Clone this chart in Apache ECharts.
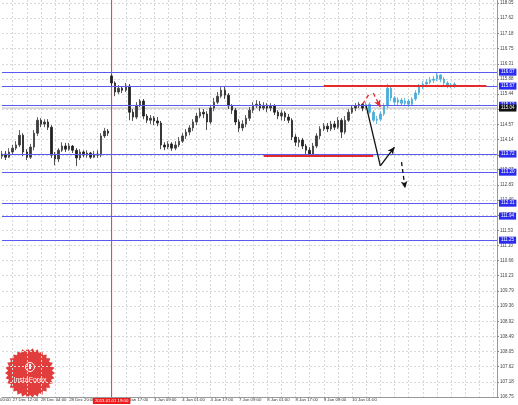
<!DOCTYPE html>
<html><head><meta charset="utf-8">
<script src="https://cdn.jsdelivr.net/npm/echarts@6/dist/echarts.min.js"></script>
<style>html,body{margin:0;padding:0;background:#fff}#c{width:518px;height:405px}</style>
</head><body><div id="c"></div>
<script>
// ---- data ----
const barCount = 141;
const firstLabelIndex = 3, labelStep = 8;
const timeLabels = ['27 Dec 12:00','28 Dec 04:00','28 Dec 20:00','1 Jan 09:00','2 Jan 17:00','3 Jan 09:00','4 Jan 01:00','4 Jan 17:00','7 Jan 09:00','8 Jan 01:00','8 Jan 17:00','9 Jan 09:00','10 Jan 01:00'];
const separatorLabel = '2013.01.01 19:00';
const separatorIndex = 31;
const priceMin = 106.75, priceMax = 118.14;
const priceTicks = [106.75,107.18,107.62,108.05,108.49,108.92,109.36,109.79,110.23,110.66,111.10,111.53,111.97,112.40,112.83,113.27,113.70,114.14,114.57,115.01,115.44,115.88,116.31,116.75,117.18,117.62,118.05];
// [open, close, low, high]
const history = [
[113.66,113.72,113.58,113.81],[113.72,113.63,113.55,113.81],[113.63,113.78,113.61,113.89],[113.78,113.89,113.72,113.98],
[113.89,113.98,113.83,114.09],[113.98,114.26,113.92,114.41],[114.26,113.78,113.66,114.32],[113.78,113.63,113.55,113.86],
[113.63,113.92,113.58,114.01],[113.92,114.32,113.83,114.41],[114.32,114.69,114.24,114.78],[114.69,114.58,114.49,114.75],
[114.58,114.64,114.49,114.72],[114.64,114.49,114.41,114.72],[114.49,113.69,113.61,114.55],[113.69,113.58,113.40,113.78],
[113.58,113.83,113.49,113.89],[113.83,113.95,113.78,114.06],[113.95,113.86,113.78,114.04],[113.86,113.95,113.81,114.04],
[113.95,113.83,113.75,113.98],[113.83,113.61,113.38,113.89],[113.61,113.78,113.55,113.86],[113.78,113.69,113.63,113.83],
[113.69,113.75,113.61,113.83],[113.75,113.63,113.58,113.78],[113.63,113.72,113.61,113.81],[113.72,113.69,113.61,113.83],
[113.69,114.24,113.63,114.32],[114.24,114.38,114.18,114.47],[114.38,114.32,114.24,114.44],[115.96,115.76,115.67,116.01],
[115.76,115.50,115.38,115.81],[115.50,115.61,115.44,115.70],[115.61,115.55,115.47,115.67],[115.55,115.67,115.50,115.76],
[115.67,114.92,114.69,115.73],[114.92,114.78,114.67,115.01],[114.78,115.12,114.72,115.21],[115.12,115.24,115.07,115.30],
[115.24,114.81,114.72,115.30],[114.81,114.69,114.61,114.87],[114.69,114.75,114.58,114.84],[114.75,114.67,114.55,114.81],
[114.67,114.61,114.52,114.78],[114.61,113.98,113.86,114.67],[113.98,113.92,113.83,114.06],[113.92,114.01,113.86,114.09],
[114.01,113.89,113.81,114.06],[113.89,113.98,113.83,114.09],[113.98,114.09,113.92,114.21],[114.09,114.24,114.04,114.32],
[114.24,114.35,114.15,114.44],[114.35,114.47,114.26,114.55],[114.47,114.64,114.38,114.72],[114.64,114.81,114.55,114.90],
[114.81,114.92,114.75,115.04],[114.92,114.87,114.75,115.01],[114.87,114.64,114.41,114.95],[114.64,115.04,114.58,115.12],
[115.04,115.21,114.95,115.33],[115.21,115.38,115.15,115.50],[115.38,115.55,115.33,115.64],[115.55,115.41,115.30,115.67],
[115.41,115.10,115.01,115.47],[115.10,114.98,114.87,115.15],[114.98,114.64,114.55,115.04],[114.64,114.47,114.35,114.72],
[114.47,114.58,114.38,114.69],[114.58,114.75,114.49,114.84],[114.75,114.98,114.67,115.07],[114.98,115.10,114.90,115.21],
[115.10,115.15,115.04,115.27],[115.15,115.04,114.95,115.24],[115.04,115.12,114.98,115.21],[115.12,115.04,114.92,115.18],
[115.04,115.10,114.95,115.18],[115.10,114.92,114.84,115.15],[114.92,114.81,114.72,114.98],[114.81,114.90,114.69,114.98],
[114.90,114.78,114.67,114.95],[114.78,114.69,114.61,114.87],[114.69,114.21,114.12,114.75],[114.21,114.06,113.95,114.29],
[114.06,114.12,113.92,114.21],[114.12,113.95,113.86,114.18],[113.95,113.83,113.72,114.01],[113.83,113.72,113.66,113.92],
[113.72,113.95,113.66,114.04],[113.95,114.24,113.89,114.32],[114.24,114.44,114.15,114.52],[114.44,114.52,114.38,114.61],
[114.52,114.44,114.35,114.61],[114.44,114.58,114.38,114.67],[114.58,114.49,114.41,114.67],[114.49,114.69,114.44,114.78],
[114.69,114.35,114.18,114.75],[114.35,114.69,114.29,114.81],[114.69,114.92,114.64,115.01],[114.92,115.04,114.87,115.12],
[115.04,115.10,114.95,115.18],[115.10,115.15,115.04,115.21],[115.15,115.04,114.95,115.18]
];
const projection = [
[115.04,115.15,114.98,115.21],[115.15,114.92,114.87,115.21],[114.92,114.69,114.64,114.98],[114.69,114.72,114.58,114.81],
[114.72,114.87,114.67,114.95],[114.87,115.10,114.81,115.18],[115.10,115.61,115.04,115.73],[115.61,115.33,115.24,115.67],
[115.33,115.21,115.12,115.38],[115.21,115.27,115.12,115.35],[115.27,115.18,115.10,115.33],[115.18,115.24,115.12,115.33],
[115.24,115.15,115.07,115.30],[115.15,115.30,115.10,115.35],[115.30,115.47,115.24,115.55],[115.47,115.64,115.41,115.73],
[115.64,115.73,115.58,115.81],[115.73,115.78,115.64,115.87],[115.78,115.84,115.73,115.93],[115.84,115.87,115.76,115.96],
[115.87,115.99,115.81,116.07],[115.99,115.87,115.78,116.01],[115.87,115.76,115.70,115.93],[115.76,115.70,115.61,115.81],
[115.70,115.67,115.61,115.76],[115.67,115.73,115.61,115.78]
];
const levels = [116.07, 115.67, 115.12, 113.72, 113.20, 112.31, 111.94, 111.25];
const currentPrice = 115.04;
const redSegments = [[[91,115.67],[137,115.67]], [[74,113.68],[105,113.68]]];
const solidArrow = [[103,115.10],[107,113.38],[111,113.92]];
const dashedArrow = [[113,113.49],[114,112.74]];
const redDashed = [[[102,115.15],[104,115.47]], [[105,115.47],[107,115.07]]];

// ---- build ----
const categories = Array.from({length: barCount}, (_, i) => String(i));
const labelAt = {};
timeLabels.forEach((t, k) => { labelAt[firstLabelIndex + k * labelStep] = t; });
const projData = new Array(history.length).fill('-').concat(projection);
const lastIdx = barCount - 1;

const FONT = 'Liberation Sans, Arial, sans-serif';
const seg = (a, b, color, type, width, arrow) => [
  {coord: a, symbol: 'none', lineStyle: {color, type, width}, label: {show: false}},
  {coord: b, symbol: arrow ? 'arrow' : 'none', symbolSize: [5, 7]}
];
const lineMarks = [];
levels.forEach(v => lineMarks.push(seg([0, v], [lastIdx, v], '#5a5af2', 'solid', 1, false)));
redSegments.forEach(s => lineMarks.push(seg(s[0], s[1], '#e42a2a', 'solid', 2, false)));
for (let i = 0; i < solidArrow.length - 1; i++) lineMarks.push(seg(solidArrow[i], solidArrow[i+1], '#111', 'solid', 1.3, i === solidArrow.length - 2));
lineMarks.push(seg(dashedArrow[0], dashedArrow[1], '#111', [4, 3], 1.3, true));
redDashed.forEach((s, i) => lineMarks.push(seg(s[0], s[1], '#e42a2a', [4, 3], 1.3, i === 1)));

// boxed labels as invisible points
const boxPoint = (coord, text, bg, pos, dist, size) => ({
  coord, symbol: 'rect', symbolSize: 1, itemStyle: {color: 'rgba(0,0,0,0)'},
  label: {show: true, position: pos, distance: dist, formatter: text, color: '#fff', backgroundColor: bg, fontSize: size, fontFamily: FONT, padding: [1, 2]}
});
const pointMarks = levels.map(v => boxPoint([lastIdx, v], v.toFixed(2), '#2a2af0', 'right', 1.5, 4.5));
pointMarks.push(boxPoint([lastIdx, currentPrice], currentPrice.toFixed(2), '#111', 'right', 1.5, 4.5));
pointMarks.push(boxPoint([separatorIndex, priceMin], separatorLabel, '#ee1c1c', 'bottom', 0.5, 4.3));

// logo star
const starPts = [];
const spikes = 30;
for (let k = 0; k < spikes * 2; k++) {
  const r = k % 2 === 0 ? 25 : 22;
  const a = Math.PI * k / spikes;
  starPts.push([r * Math.cos(a), r * Math.sin(a)]);
}

const chart = echarts.init(document.getElementById('c'));
chart.setOption({
  animation: false,
  backgroundColor: '#ffffff',
  grid: {left: 2, right: 21, top: 0, bottom: 8},
  xAxis: {
    type: 'category', data: categories, boundaryGap: false,
    axisLine: {show: true, lineStyle: {color: '#999'}},
    axisTick: {show: false},
    axisLabel: {
      interval: (i) => labelAt[i] !== undefined,
      formatter: (v, i) => labelAt[i] || '',
      align: 'left', margin: 1, fontSize: 4.3, color: '#333', fontFamily: FONT
    },
    splitLine: {show: true, interval: (i) => i % 4 === 3 && i !== separatorIndex, lineStyle: {color: '#d8d8d8', type: [2, 2], width: 1}}
  },
  yAxis: {
    type: 'value', position: 'right', min: priceMin, max: priceMax, scale: true,
    axisLine: {show: true, lineStyle: {color: '#999'}},
    axisTick: {show: true, length: 2, customValues: priceTicks, lineStyle: {color: '#888'}},
    axisLabel: {customValues: priceTicks, formatter: (v) => v.toFixed(2), fontSize: 4.5, color: '#444', margin: 3, fontFamily: FONT},
    splitLine: {show: true, lineStyle: {color: '#d8d8d8', type: [2, 2], width: 1}}
  },
  series: [
    {
      type: 'line', silent: true, symbol: 'none', z: 2, color: '#b8b8b8',
      lineStyle: {color: '#b8b8b8', width: 1},
      data: [[String(0), currentPrice], [String(lastIdx), currentPrice]]
    },
    {
      type: 'line', silent: true, symbol: 'none', z: 2, color: '#ff2a2a',
      lineStyle: {color: '#ff2a2a', width: 1},
      data: [[String(separatorIndex), priceMin], [String(separatorIndex), priceMax]]
    },
    {
      type: 'candlestick', data: history, barWidth: 2, z: 3,
      itemStyle: {color: '#3a3a3a', color0: '#222', borderColor: '#3a3a3a', borderColor0: '#222', borderWidth: 0.8}
    },
    {
      type: 'candlestick', data: projData, barWidth: 2, z: 3,
      itemStyle: {color: '#46acd8', color0: '#46acd8', borderColor: '#46acd8', borderColor0: '#46acd8', borderWidth: 0.8},
      markLine: {silent: true, animation: false, data: lineMarks},
      markPoint: {silent: true, animation: false, data: pointMarks}
    }
  ],
  graphic: [
    {type: 'text', left: 0, top: 398, style: {text: '00:00', fontSize: 4.3, fill: '#333', fontFamily: FONT}, z: 50},
    {
      type: 'group', x: 30, y: 373, z: 100,
      children: [
        {type: 'polygon', shape: {points: starPts}, style: {fill: '#e23d3d'}},
        {type: 'circle', shape: {cx: 0, cy: -6, r: 4.5}, style: {fill: 'none', stroke: '#fff', lineWidth: 1}},
        {type: 'rect', shape: {x: -1, y: -9, width: 2, height: 5}, style: {fill: '#fff'}},
        {type: 'text', style: {text: 'InstaForex', x: 0, y: 7, align: 'center', verticalAlign: 'middle', fontSize: 7, fill: '#fff', fontFamily: FONT}}
      ]
    }
  ]
});
</script>
</body></html>
